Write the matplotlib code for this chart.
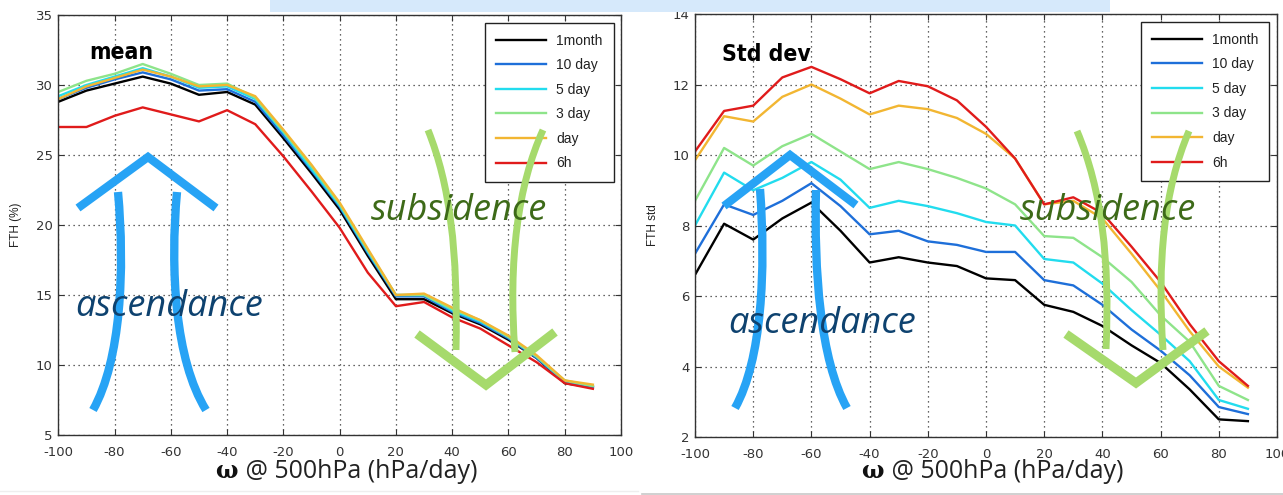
import matplotlib
matplotlib.use("Agg")
import matplotlib.pyplot as plt
from matplotlib.path import Path
from matplotlib.patches import PathPatch, Rectangle
from matplotlib import font_manager
from matplotlib.font_manager import FontProperties

# ---------------- data ----------------
omega = [-100, -90, -80, -70, -60, -50, -40, -30, -20, -10, 0, 10, 20, 30, 40, 50, 60, 70, 80, 90]
labels = ["1month", "10 day", "5 day", "3 day", "day", "6h"]
colors = ["#000000", "#1e6fd9", "#22dcee", "#8ee48a", "#f2b632", "#e01b1b"]

mean_1month = [28.8, 29.6, 30.1, 30.6, 30.1, 29.3, 29.5, 28.6, 26.2, 23.7, 21.1, 17.8, 14.7, 14.7, 13.7, 12.9, 11.8, 10.5, 8.7, 8.4]
mean_10day  = [29.0, 29.8, 30.4, 30.9, 30.4, 29.6, 29.7, 28.8, 26.4, 23.9, 21.3, 18.0, 14.9, 14.9, 13.8, 13.0, 11.9, 10.5, 8.8, 8.4]
mean_5day   = [29.2, 30.0, 30.6, 31.2, 30.6, 29.8, 29.9, 29.0, 26.6, 24.0, 21.4, 18.1, 15.0, 15.0, 13.9, 13.1, 12.0, 10.6, 8.8, 8.5]
mean_3day   = [29.5, 30.3, 30.8, 31.5, 30.8, 30.0, 30.1, 29.1, 26.7, 24.2, 21.5, 18.2, 15.0, 15.0, 14.0, 13.2, 12.0, 10.6, 8.9, 8.5]
mean_day    = [29.0, 29.9, 30.5, 31.1, 30.6, 29.9, 30.0, 29.2, 26.8, 24.3, 21.6, 18.3, 15.0, 15.1, 14.1, 13.2, 12.1, 10.7, 8.9, 8.6]
mean_6h     = [27.0, 27.0, 27.8, 28.4, 27.9, 27.4, 28.2, 27.2, 24.9, 22.4, 19.8, 16.6, 14.2, 14.5, 13.4, 12.6, 11.4, 10.2, 8.7, 8.3]

std_1month = [6.6, 8.05, 7.6, 8.2, 8.65, 7.85, 6.95, 7.1, 6.95, 6.85, 6.5, 6.45, 5.75, 5.55, 5.15, 4.6, 4.1, 3.35, 2.5, 2.45]
std_10day  = [7.2, 8.6, 8.3, 8.7, 9.2, 8.55, 7.75, 7.85, 7.55, 7.45, 7.25, 7.25, 6.45, 6.3, 5.75, 5.05, 4.45, 3.75, 2.85, 2.65]
std_5day   = [8.0, 9.5, 9.0, 9.35, 9.8, 9.3, 8.5, 8.7, 8.55, 8.35, 8.1, 8.0, 7.05, 6.95, 6.35, 5.6, 4.9, 4.15, 3.05, 2.8]
std_3day   = [8.7, 10.2, 9.7, 10.25, 10.6, 10.1, 9.6, 9.8, 9.6, 9.35, 9.05, 8.6, 7.7, 7.65, 7.1, 6.4, 5.45, 4.7, 3.45, 3.05]
std_day    = [9.85, 11.1, 10.95, 11.65, 12.0, 11.6, 11.15, 11.4, 11.3, 11.05, 10.6, 9.9, 8.6, 8.7, 8.2, 7.2, 6.15, 5.0, 4.0, 3.4]
std_6h     = [10.1, 11.25, 11.4, 12.2, 12.5, 12.15, 11.75, 12.1, 11.95, 11.55, 10.8, 9.9, 8.6, 8.8, 8.35, 7.4, 6.4, 5.2, 4.15, 3.45]

mean_series = [mean_1month, mean_10day, mean_5day, mean_3day, mean_day, mean_6h]
std_series = [std_1month, std_10day, std_5day, std_3day, std_day, std_6h]

xticks = [-100, -80, -60, -40, -20, 0, 20, 40, 60, 80, 100]
mean_yticks = [5, 10, 15, 20, 25, 30, 35]
std_yticks = [2, 4, 6, 8, 10, 12, 14]

# ---------------- fonts ----------------
ttfs = font_manager.fontManager.ttflist
avail = {f.name for f in ttfs}
legfont = "Liberation Sans" if "Liberation Sans" in avail else "DejaVu Sans"
tickfont = "DejaVu Sans"
labfont = "Open Sans" if "Open Sans" in avail else "DejaVu Sans"


def is_bold(f):
    w = f.weight
    if isinstance(w, str):
        return w in ("bold", "heavy", "extra bold", "black", "semibold", "demibold")
    return w >= 600


narrow_fp = None
for f in ttfs:
    low = (f.name + " " + f.fname).lower()
    if is_bold(f) and f.style == "normal" and ("narrow" in low or "condensed" in low):
        narrow_fp = FontProperties(fname=f.fname)
        break
if narrow_fp is None:
    narrow_fp = FontProperties(family="DejaVu Sans", weight="bold")
    narrow_size = 14
else:
    narrow_size = 16.5

W, H = 1283, 495
fig = plt.figure(figsize=(W / 100, H / 100), dpi=100)
fig.patch.set_facecolor("white")


def make_axes(rect, series, yticks, ylim, ylabel):
    ax = fig.add_axes(rect)
    for s, c, l in zip(series, colors, labels):
        ax.plot(omega, s, color=c, lw=1.7, label=l)
    ax.set_xlim(-100, 100)
    ax.set_ylim(*ylim)
    ax.set_xticks(xticks)
    ax.set_yticks(yticks)
    ax.set_xticklabels([str(v) for v in xticks])
    ax.grid(True, color="#333333", linestyle=(0, (1, 3)), lw=0.9)
    ax.tick_params(direction="in", top=True, right=True, length=4, width=0.8,
                   labelsize=9.5, labelcolor="#333333", color="#333333")
    ax.tick_params(axis="x", pad=8)
    ax.tick_params(axis="y", pad=4)
    for lab in ax.get_xticklabels() + ax.get_yticklabels():
        lab.set_fontfamily(tickfont)
    for sp in ax.spines.values():
        sp.set_color("#333333")
        sp.set_linewidth(1.0)
    ax.set_ylabel(ylabel, fontsize=8.5, family=legfont, color="#222222", labelpad=10)
    leg = ax.legend(loc="upper right", bbox_to_anchor=(0.987, 0.982), borderaxespad=0,
                    fancybox=False, framealpha=1, edgecolor="#222222",
                    prop={"family": legfont, "size": 10}, handlelength=3.6,
                    handletextpad=0.7, labelspacing=0.76, borderpad=0.8)
    leg.get_frame().set_linewidth(1.0)
    for t in leg.get_texts():
        t.set_color("#222222")
    return ax


axL = make_axes([58.3 / W, 1 - 435 / H, (621 - 58.3) / W, 420 / H],
                mean_series, mean_yticks, (5, 35), "FTH (%)")
axR = make_axes([695 / W, 1 - 437 / H, (1277 - 695) / W, 423 / H],
                std_series, std_yticks, (2, 14), "FTH std")

# ---------------- overlay (annotations in pixel coordinates) ----------------
ov = fig.add_axes([0, 0, 1, 1], zorder=10)
ov.set_xlim(0, W)
ov.set_ylim(H, 0)
ov.axis("off")
ov.patch.set_alpha(0)

ov.add_patch(Rectangle((270, 0), 840, 12, color="#d6e9fb", lw=0))
ov.plot([0, 638], [491, 491], color="#eeeeee", lw=1)
ov.plot([642, W], [494, 494], color="#c8c8c8", lw=1.2)

BLUE = "#27a3f5"
GREEN = "#a6da6c"


def curve(p0, p1, p2, p3, color, lw):
    path = Path([p0, p1, p2, p3], [Path.MOVETO, Path.CURVE4, Path.CURVE4, Path.CURVE4])
    ov.add_patch(PathPatch(path, fill=False, edgecolor=color, lw=lw, capstyle="butt"))


def chevron(a, b, c, color, lw):
    ov.plot([a[0], b[0], c[0]], [a[1], b[1], c[1]], color=color, lw=lw,
            solid_capstyle="butt", solid_joinstyle="miter")


# left panel
chevron((78, 208), (148, 157), (216, 208), BLUE, 6)
curve((118, 192), (125, 270), (121, 360), (93, 410), BLUE, 6)
curve((177, 192), (170, 270), (175, 360), (206, 410), BLUE, 6)
curve((428, 130), (450, 185), (458, 250), (456, 350), GREEN, 5)
curve((543, 130), (518, 185), (508, 260), (515, 352), GREEN, 5)
chevron((417, 334), (486, 385), (555, 332), GREEN, 6.5)

# right panel
chevron((724, 206), (790, 155), (856, 205), BLUE, 6)
curve((760, 189), (766, 270), (762, 360), (735, 408), BLUE, 6)
curve((816, 190), (814, 270), (820, 360), (847, 408), BLUE, 6)
curve((1077, 131), (1102, 190), (1110, 260), (1106, 349), GREEN, 5)
curve((1189, 131), (1164, 190), (1157, 260), (1163, 350), GREEN, 5)
chevron((1066, 334), (1136, 383), (1207, 331), GREEN, 6.5)

# texts
TXT_BLUE = "#0e426f"
TXT_GREEN = "#3d6a18"
ov.text(89, 59, "mean", fontproperties=narrow_fp, fontsize=narrow_size, color="black",
        ha="left", va="baseline")
ov.text(722, 61, "Std dev", fontproperties=narrow_fp, fontsize=narrow_size, color="black",
        ha="left", va="baseline")
ov.text(75, 316, "ascendance", family=labfont, style="italic", fontsize=26,
        color=TXT_BLUE, ha="left", va="baseline")
ov.text(728, 333, "ascendance", family=labfont, style="italic", fontsize=26,
        color=TXT_BLUE, ha="left", va="baseline")
ov.text(371, 220, "subsidence", family=labfont, style="italic", fontsize=26,
        color=TXT_GREEN, ha="left", va="baseline")
ov.text(1020, 220, "subsidence", family=labfont, style="italic", fontsize=26,
        color=TXT_GREEN, ha="left", va="baseline")

for xw in (238, 884):
    ov.text(xw, 478, "\u03c9", family="DejaVu Serif", weight="bold", fontsize=17,
            color="#111111", ha="right", va="baseline")
    ov.text(xw + 1, 478, " @ 500hPa (hPa/day)", family=labfont, fontsize=18,
            color="#222222", ha="left", va="baseline")

fig.savefig("out.png", dpi=100, facecolor="white")
